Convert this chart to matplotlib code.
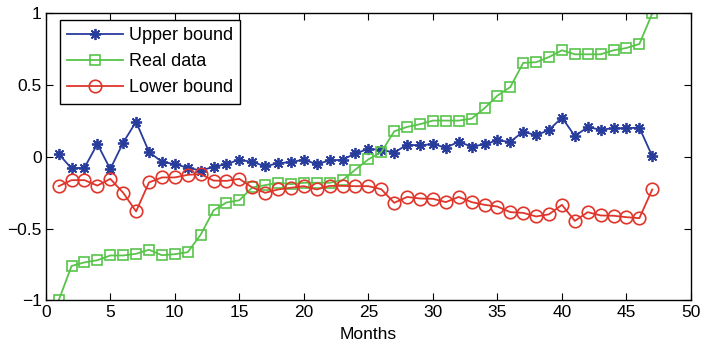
import matplotlib
matplotlib.use("Agg")
import matplotlib.pyplot as plt

months = list(range(1, 48))

upper = [0.02, -0.08, -0.075, 0.09, -0.085, 0.10, 0.245, 0.035, -0.035, -0.05,
         -0.075, -0.095, -0.07, -0.05, -0.02, -0.035, -0.065, -0.045, -0.035, -0.02,
         -0.05, -0.025, -0.02, 0.025, 0.055, 0.05, 0.03, 0.085, 0.08, 0.09,
         0.065, 0.105, 0.072, 0.088, 0.115, 0.105, 0.177, 0.15, 0.188, 0.274,
         0.146, 0.207, 0.19, 0.2, 0.2, 0.204, 0.005]

real = [-1.0, -0.76, -0.735, -0.72, -0.687, -0.687, -0.675, -0.647, -0.685, -0.678,
        -0.664, -0.543, -0.373, -0.318, -0.302, -0.213, -0.197, -0.18, -0.19, -0.18,
        -0.18, -0.18, -0.162, -0.088, -0.017, 0.033, 0.178, 0.209, 0.228, 0.253,
        0.253, 0.253, 0.267, 0.339, 0.427, 0.487, 0.655, 0.66, 0.696, 0.743,
        0.715, 0.715, 0.715, 0.743, 0.759, 0.787, 1.0]

lower = [-0.204, -0.162, -0.162, -0.2, -0.153, -0.25, -0.38, -0.178, -0.143, -0.143,
         -0.125, -0.12, -0.165, -0.167, -0.153, -0.213, -0.25, -0.227, -0.215, -0.204,
         -0.227, -0.202, -0.202, -0.204, -0.204, -0.225, -0.32, -0.279, -0.29, -0.292,
         -0.315, -0.279, -0.315, -0.334, -0.346, -0.385, -0.39, -0.415, -0.4, -0.334,
         -0.446, -0.385, -0.408, -0.41, -0.42, -0.427, -0.227]

plt.rcParams['font.family'] = ['Liberation Sans', 'DejaVu Sans']

fig = plt.figure(figsize=(7.04, 3.53), dpi=100)
ax = fig.add_axes([0.065, 0.149, 0.9165, 0.813])

ax.plot(months, upper, color='#283c9c', marker=(8, 2, 0), markersize=8,
        markeredgewidth=1.3, linewidth=1.3, label='Upper bound')
ax.plot(months, real, color='#58c44a', marker='s', markersize=7, markerfacecolor='none',
        markeredgewidth=1.2, linewidth=1.3, label='Real data')
ax.plot(months, lower, color='#e0352a', marker='o', markersize=9, markerfacecolor='none',
        markeredgewidth=1.2, linewidth=1.3, label='Lower bound')

ax.set_xlim(0, 50)
ax.set_ylim(-1, 1)
ax.set_xticks(range(0, 51, 5))
ax.set_yticks([-1, -0.5, 0, 0.5, 1])
ax.set_yticklabels(['\u22121', '\u22120.5', '0', '0.5', '1'])
ax.tick_params(direction='in', top=True, right=True, labelsize=12.5, length=5, pad=3)
ax.set_xlabel('Months', fontsize=12.5, labelpad=5)
for s in ax.spines.values():
    s.set_linewidth(1)

leg = ax.legend(loc='upper left', bbox_to_anchor=(0.022, 0.977), fontsize=13,
                fancybox=False, edgecolor='black', framealpha=1, handlelength=3.1,
                borderaxespad=0, labelspacing=0.5, borderpad=0.4, handletextpad=0.3)
leg.get_frame().set_linewidth(1)

fig.savefig('out.png', dpi=100)
